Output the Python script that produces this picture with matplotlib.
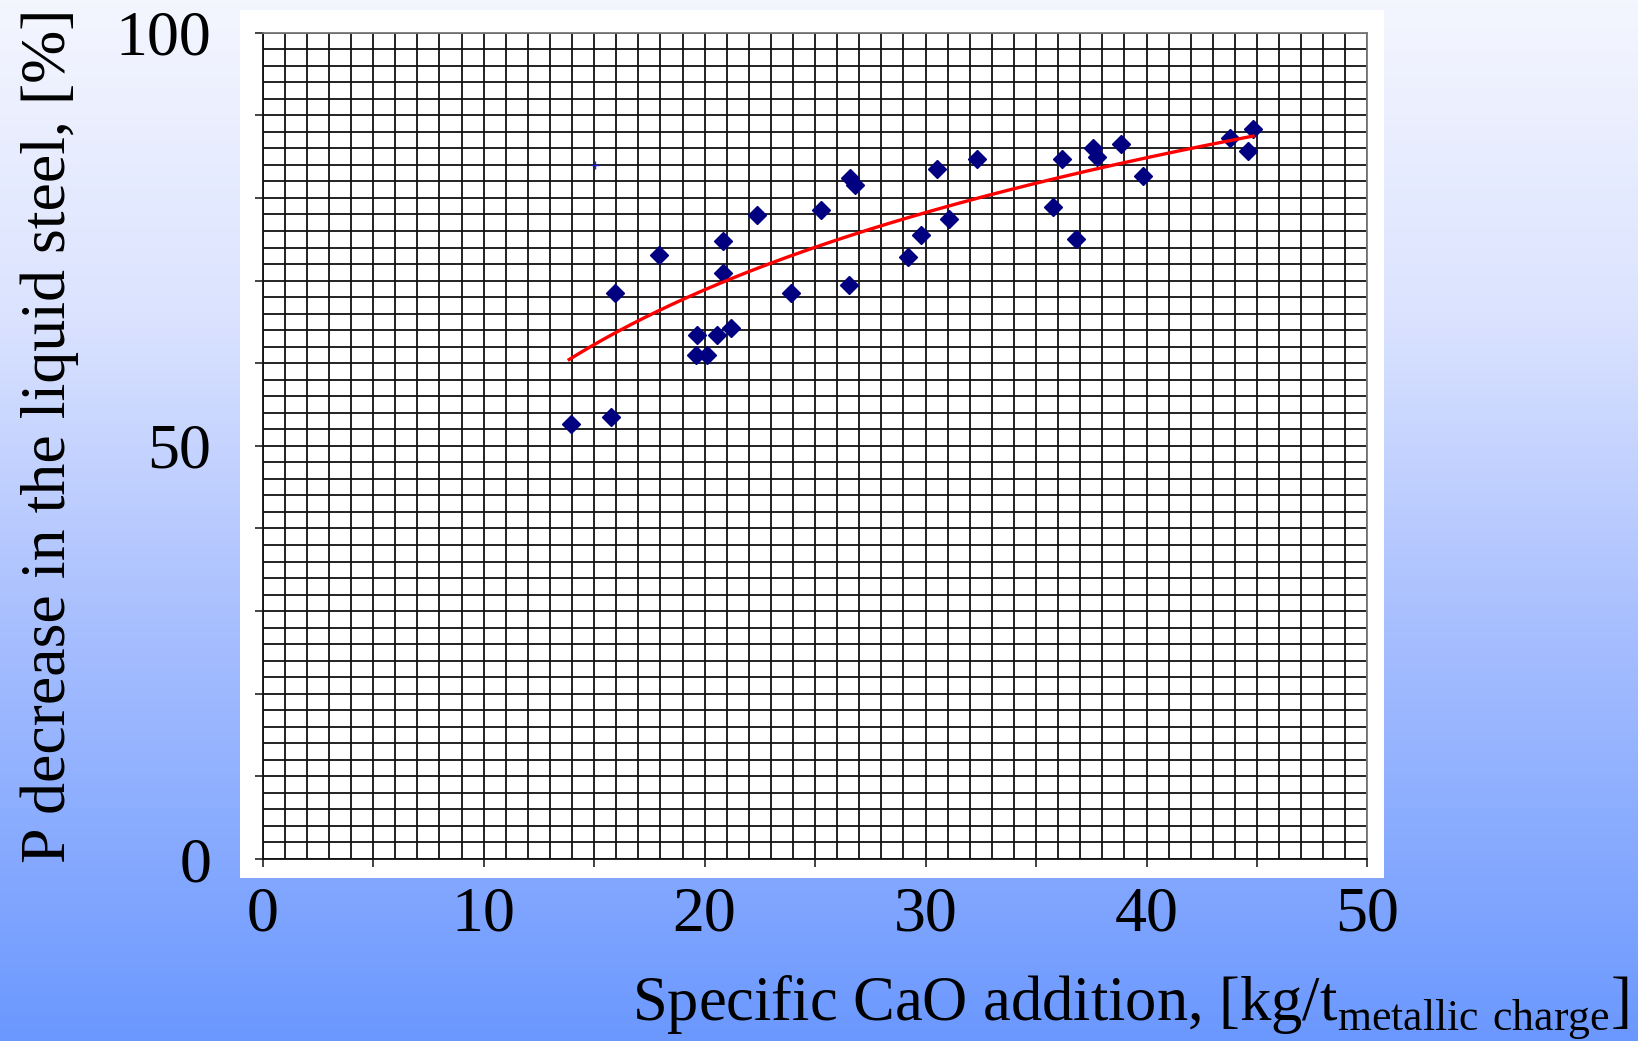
"""P removal vs specific CaO addition - scatter with log trend line"""

import matplotlib
matplotlib.use("Agg")
import matplotlib.pyplot as plt
import numpy as np
from matplotlib.colors import LinearSegmentedColormap
from matplotlib.patches import Rectangle

plt.rcParams['font.family'] = ['Liberation Serif', 'DejaVu Serif']
plt.rcParams['mathtext.fontset'] = 'custom'
plt.rcParams['mathtext.rm'] = 'Liberation Serif'

# data
cao = [13.95, 15.75, 15.95, 17.93, 19.65, 19.62, 20.13, 20.56, 21.19, 20.81,
       20.83, 22.37, 23.92, 25.26, 26.54, 26.60, 26.80, 29.20, 29.79, 30.50,
       31.05, 32.32, 35.75, 36.18, 36.83, 37.56, 37.77, 38.84, 39.82, 43.77,
       44.60, 44.82]
p_dec = [52.7, 53.5, 68.5, 73.1, 63.4, 61.0, 61.0, 63.4, 64.3, 70.9,
         74.8, 77.9, 68.5, 78.5, 69.5, 82.4, 81.6, 72.8, 75.5, 83.5,
         77.5, 84.7, 78.9, 84.7, 75.0, 86.0, 85.0, 86.5, 82.6, 87.2,
         85.7, 88.3]
stray_x = [15.04]
stray_y = [84.0]

# points read along the red (logarithmic) trend line
trend_x = [13.87, 20.81, 32.90, 44.82]
trend_y = [60.4, 69.9, 80.3, 87.5]

xticks = [0, 5, 10, 15, 20, 25, 30, 35, 40, 45, 50]
xticklabels = ['0', '', '10', '', '20', '', '30', '', '40', '', '50']
yticks = [0, 10, 20, 30, 40, 50, 60, 70, 80, 90, 100]
yticklabels = ['0', '', '', '', '', '50', '', '', '', '', '100']

W, H = 1638, 1041
fig = plt.figure(figsize=(W / 100, H / 100), dpi=100)

# gradient background
bg = fig.add_axes([0, 0, 1, 1], zorder=-2)
cmap = LinearSegmentedColormap.from_list(
    'bg', [(0.0, '#f4f6fe'), (0.30, '#dbe3fe'), (0.60, '#a8bffe'), (1.0, '#6b98fe')])
bg.imshow(np.linspace(0, 1, 256).reshape(-1, 1), cmap=cmap, aspect='auto',
          extent=[0, 1, 0, 1], origin='upper')
bg.set_axis_off()

# white panel behind the plot
fig.patches.append(Rectangle((240 / W, 1 - 878 / H), (1384 - 240) / W, 868 / H,
                             transform=fig.transFigure, facecolor='white',
                             edgecolor='none', zorder=-1))

ax = fig.add_axes([262.7 / W, 1 - 859 / H, (1367.5 - 262.7) / W, (859 - 32.7) / H])
ax.set_facecolor('none')
ax.set_xlim(0, 50)
ax.set_ylim(0, 100)

ax.set_xticks(np.arange(0, 51, 1), minor=True)
ax.set_yticks(np.arange(0, 101, 2), minor=True)
ax.grid(True, which='both', color='#111111', lw=1.3, zorder=0)
ax.set_axisbelow(True)

ax.set_xticks(xticks)
ax.set_xticklabels(xticklabels)
ax.set_yticks(yticks)
ax.set_yticklabels(yticklabels)
ax.tick_params(which='minor', length=0)
ax.tick_params(which='major', length=6, width=1.2, color='#222222', labelsize=46)
ax.tick_params(axis='x', pad=14)
ax.tick_params(axis='y', pad=31)
for s in ['left', 'bottom']:
    ax.spines[s].set_color('#111111')
    ax.spines[s].set_linewidth(1.3)
for s in ['top', 'right']:
    ax.spines[s].set_color('#777777')
    ax.spines[s].set_linewidth(1.3)

ax.plot(cao, p_dec, 'D', ms=9, color='#000080', mec='#000080', zorder=4, clip_on=False)
ax.plot(stray_x, stray_y, '+', ms=6, mew=1, color='#2020d0', zorder=4)

# logarithmic trend line (Excel style) through the read trend points
b, a = np.polyfit(np.log(trend_x), trend_y, 1)
xt = np.linspace(trend_x[0], trend_x[-1], 200)
ax.plot(xt, a + b * np.log(xt), color='red', lw=2.4, zorder=5)

ax.set_ylabel("P decrease in the liquid steel, [%]", fontsize=46, va='baseline')
ax.yaxis.set_label_coords(-0.179, 0.512)
ax.set_xlabel(r"Specific CaO addition, [kg/t$_{\mathrm{metallic\ charge}}$]", fontsize=45,
              ha='right', va='baseline')
ax.xaxis.set_label_coords(1.237, -0.195)

fig.savefig("out.png", dpi=100)
